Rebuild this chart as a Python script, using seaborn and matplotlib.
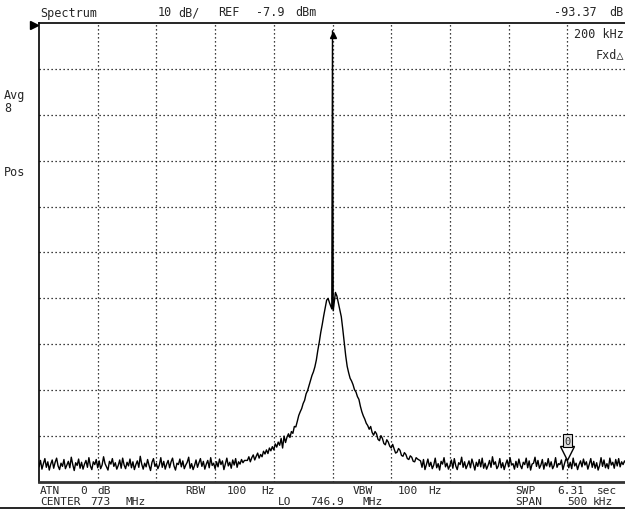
import numpy as np
import matplotlib
matplotlib.use("Agg")
import matplotlib.pyplot as plt
import seaborn as sns
import pandas as pd

# ---- data ----
ref_level = -7.9          # dBm, top of screen
db_per_div = 10
span_khz = 500
center_mhz = 773

# noise floor, left of the carrier: -250 .. -75 kHz, 1.25 kHz steps (141 pts)
noise_left = [
    -104.6, -103.2, -105.1, -103.9, -102.8, -104.7, -103.5, -105.3, -104.0, -103.1,
    -104.9, -103.6, -102.7, -104.4, -105.2, -103.8, -104.5, -103.0, -105.0, -104.2,
    -103.4, -104.8, -102.5, -104.1, -105.4, -103.7, -104.3, -102.9, -104.9, -103.6,
    -105.1, -104.0, -103.2, -104.7, -102.6, -104.4, -105.2, -103.5, -104.1, -103.0,
    -104.8, -103.3, -105.0, -104.2, -102.4, -103.9, -104.6, -105.3, -103.4, -104.0,
    -102.8, -104.5, -103.7, -105.1, -104.3, -103.1, -104.9, -102.7, -104.2, -105.0,
    -103.6, -104.4, -102.9, -104.8, -103.5, -105.2, -104.1, -103.3, -104.7, -102.3,
    -104.0, -105.1, -103.8, -104.6, -103.0, -104.3, -105.4, -103.6, -102.8, -104.5,
    -103.9, -105.0, -104.2, -102.6, -104.7, -103.4, -105.1, -104.0, -103.2, -104.8,
    -103.5, -102.7, -104.4, -105.3, -103.8, -104.1, -102.9, -104.6, -103.3, -105.0,
    -104.2, -103.6, -102.5, -104.9, -103.9, -105.2, -104.3, -103.1, -104.7, -103.7,
    -102.8, -104.5, -103.4, -105.1, -104.0, -103.2, -104.8, -102.6, -104.3, -103.8,
    -105.0, -103.5, -104.6, -102.9, -104.1, -103.3, -105.2, -103.9, -102.7, -104.4,
    -103.6, -104.9, -103.1, -104.2, -102.8, -104.7, -103.5, -104.0, -103.0, -103.7,
    -103.2]
# carrier skirt: -72.5 .. -2.5 kHz, 1.25 kHz steps (57 pts)
skirt_left = [
    -103.2, -102.4, -103.5, -102.6, -102.0, -103.1, -102.3, -101.6, -102.7, -101.9,
    -102.4, -101.2, -101.8, -100.9, -101.7, -100.5, -101.1, -100.2, -100.9, -99.6,
    -100.3, -99.2, -99.9, -98.4, -100.5, -97.9, -99.3, -98.1, -97.4, -98.2,
    -96.9, -97.3, -95.8, -95.9, -94.7, -93.4, -92.6, -91.9, -90.8, -90.1,
    -88.7, -88.0, -86.9, -85.8, -84.7, -83.9, -82.8, -81.3, -79.2, -77.4,
    -75.3, -73.6, -71.7, -70.0, -68.3, -67.9, -68.9]
# carrier at -0.6, 0, +0.6 kHz
carrier = [-70.2, -9.6, -70.6]
# carrier skirt: 2.5 .. 72.5 kHz, 1.25 kHz steps (57 pts)
skirt_right = [
    -66.6, -67.4, -68.9, -70.3, -71.9, -74.6, -77.6, -80.4, -82.7, -84.1,
    -85.3, -85.9, -86.7, -87.8, -88.3, -89.3, -89.9, -91.4, -92.6, -93.5,
    -94.2, -95.1, -95.6, -96.4, -95.8, -97.1, -97.7, -96.9, -97.4, -98.6,
    -98.9, -97.8, -98.4, -99.5, -99.8, -98.7, -99.2, -100.1, -100.5, -99.7,
    -100.7, -101.6, -101.4, -100.6, -101.0, -102.1, -102.3, -101.5, -101.9, -102.8,
    -103.0, -102.2, -102.5, -103.4, -103.5, -102.6, -102.9]
# noise floor, right: 75 .. 250 kHz, 1.25 kHz steps (141 pts)
noise_right = [
    -103.3, -104.7, -103.0, -105.2, -104.1, -102.9, -104.5, -103.6, -105.0, -104.2,
    -102.7, -104.8, -103.9, -105.3, -103.4, -104.0, -102.6, -104.6, -103.8, -105.1,
    -104.3, -103.1, -104.9, -102.8, -104.4, -105.2, -103.7, -104.1, -102.5, -104.7,
    -103.5, -105.0, -104.2, -103.3, -104.8, -102.9, -104.0, -105.3, -103.6, -104.5,
    -103.0, -104.6, -102.7, -104.9, -103.8, -105.1, -104.3, -103.2, -104.7, -102.4,
    -104.1, -103.5, -105.0, -104.4, -102.8, -104.8, -103.7, -105.2, -104.0, -103.1,
    -104.6, -102.6, -104.2, -103.9, -105.1, -103.4, -104.7, -102.9, -104.3, -105.0,
    -103.6, -104.1, -102.7, -104.8, -103.3, -105.3, -104.0, -103.8, -102.5, -104.5,
    -103.2, -104.9, -104.2, -103.0, -105.1, -103.7, -104.4, -102.8, -104.6, -103.5,
    -105.0, -104.3, -102.6, -104.7, -103.9, -104.1, -103.1, -105.2, -104.0, -102.9,
    -103.2, -104.8, -103.6, -105.0, -102.7, -104.4, -103.8, -105.2, -104.1, -103.3,
    -104.6, -102.9, -104.2, -103.5, -105.1, -104.0, -102.8, -104.7, -103.4, -104.9,
    -103.7, -105.3, -104.3, -102.6, -104.5, -103.1, -104.8, -103.9, -105.0, -102.7,
    -104.2, -103.6, -104.9, -103.0, -104.4, -102.8, -104.6, -103.5, -104.1, -103.3,
    -103.8]

freq_noise_left = list(np.linspace(-250.0, -75.0, len(noise_left)))
freq_skirt_left = list(np.linspace(-72.5, -2.5, len(skirt_left)))
freq_carrier = [-0.6, 0.0, 0.6]
freq_skirt_right = list(np.linspace(2.5, 72.5, len(skirt_right)))
freq_noise_right = list(np.linspace(75.0, 250.0, len(noise_right)))

marker_freq = 200.0       # kHz (delta marker)
marker_label = "0"

freq = freq_noise_left + freq_skirt_left + freq_carrier + freq_skirt_right + freq_noise_right
level = noise_left + skirt_left + carrier + skirt_right + noise_right
df = pd.DataFrame({"freq": freq, "level": level})

# ---- figure ----
sns.set_style("white")
W, H = 625, 510
fig = plt.figure(figsize=(W / 100, H / 100), dpi=100)
fig.patch.set_facecolor("white")

def px(x, y):
    return x / W, 1 - y / H

L, T, R, B = 39, 24, 626, 483
ax = fig.add_axes([L / W, 1 - B / H, (R - L) / W, (B - T) / H])
ax.set_facecolor("white")

ylo = ref_level - 10 * db_per_div
ax.set_xlim(-span_khz / 2, span_khz / 2)
ax.set_ylim(ylo, ref_level)

ax.set_xticks(np.arange(-200, 201, 50))
ax.set_yticks(ref_level - db_per_div * np.arange(1, 10))
ax.tick_params(length=0, labelbottom=False, labelleft=False)
ax.grid(True, color="black", linestyle=(0, (1, 2.2)), linewidth=0.9)

for side in ["left", "top"]:
    ax.spines[side].set_color("black")
    ax.spines[side].set_linewidth(1.2)
ax.spines["right"].set_visible(False)
ax.spines["bottom"].set_color("#333333")
ax.spines["bottom"].set_linewidth(2.0)

sns.lineplot(data=df, x="freq", y="level", ax=ax, sort=False, estimator=None,
             color="black", linewidth=1.0)
ax.set_xlabel("")
ax.set_ylabel("")

# peak arrowhead
ax.plot([0], [ref_level - 2.6], marker="^", markersize=4, color="black")

# delta marker
ax.plot([marker_freq], [-101.6], marker="v", markersize=10, markerfacecolor="white",
        markeredgecolor="black", markeredgewidth=1.0)
ax.text(marker_freq, -98.9, marker_label, ha="center", va="center", fontsize=7.5,
        family="DejaVu Sans Mono",
        bbox=dict(boxstyle="square,pad=0.15", fc="#dddddd", ec="black", lw=0.8))

# reference level pointer
fig.add_artist(plt.Line2D([34 / W], [1 - 26 / H], marker=">", markersize=6,
                          color="black", transform=fig.transFigure))

mono = ["DejaVu Sans Mono", "DejaVu Sans"]

def t(x, y, s, size=8.5, ha="left"):
    fig.text(*px(x, y), s, ha=ha, va="center", fontsize=size, family=mono)

# header
t(40, 13, "Spectrum")
t(158, 13, "10")
t(178, 13, "dB/")
t(218, 13, "REF")
t(256, 13, "-7.9")
t(295, 13, "dBm")
t(597, 13, "-93.37", ha="right")
t(624, 13, "dB", ha="right")
t(624, 34, "200 kHz", ha="right")
t(624, 55, "Fxd\u25b3", ha="right")

# left annotations
t(4, 96, "Avg")
t(4, 108, "8")
t(4, 172, "Pos")

# footer row 1
fs = 8
t(40, 491, "ATN", fs)
t(80, 491, "0", fs)
t(97, 491, "dB", fs)
t(185, 491, "RBW", fs)
t(227, 491, "100", fs)
t(261, 491, "Hz", fs)
t(353, 491, "VBW", fs)
t(398, 491, "100", fs)
t(428, 491, "Hz", fs)
t(515, 491, "SWP", fs)
t(557, 491, "6.31", fs)
t(597, 491, "sec", fs)
# footer row 2
t(40, 502, "CENTER", fs)
t(90, 502, "773", fs)
t(125, 502, "MHz", fs)
t(278, 502, "LO", fs)
t(310, 502, "746.9", fs)
t(362, 502, "MHz", fs)
t(515, 502, "SPAN", fs)
t(567, 502, "500", fs)
t(593, 502, "kHz", fs)

# bottom rule
fig.add_artist(plt.Line2D([0, 1], [1 - 508.5 / H, 1 - 508.5 / H], color="black",
                          linewidth=1.2, transform=fig.transFigure))

fig.savefig("out.png", dpi=100, facecolor="white")
